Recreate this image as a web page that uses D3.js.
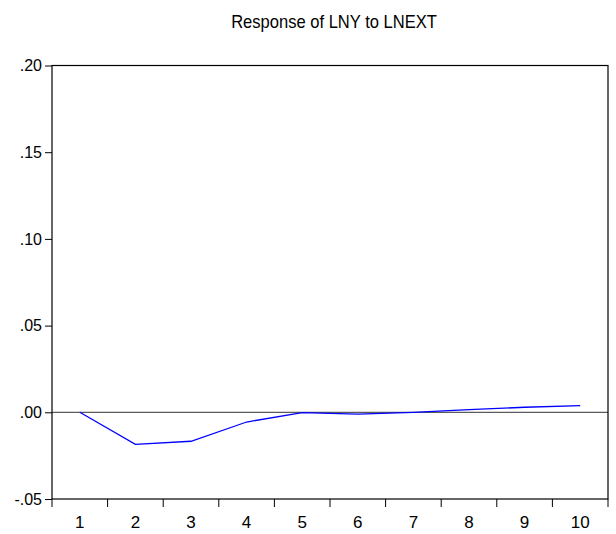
<!DOCTYPE html>
<html>
<head>
<meta charset="utf-8">
<script src="https://cdn.jsdelivr.net/npm/d3@7"></script>
<style>
  html, body { margin: 0; padding: 0; background: #fff; }
  svg { display: block; }
  text { font-family: "Liberation Sans", Arial, sans-serif; fill: #000; }
</style>
</head>
<body>
<svg id="chart" width="616" height="534"></svg>
<script>
// Impulse response of LNY to a shock in LNEXT, periods 1..10
const periods = [1, 2, 3, 4, 5, 6, 7, 8, 9, 10];
const response = [0.0000, -0.0185, -0.0167, -0.0056, -0.0002, -0.0010, -0.0001, 0.0015, 0.0029, 0.0038];
const yTicks = [-0.05, 0.00, 0.05, 0.10, 0.15, 0.20];
const yTickLabels = ["-.05", ".00", ".05", ".10", ".15", ".20"];
const title = "Response of LNY to LNEXT";

const svg = d3.select("#chart");
const margin = { left: 52, right: 8, top: 65.5, bottom: 35 };
const W = 616, H = 534;
const x0 = margin.left, x1 = W - margin.right;
const y0 = H - margin.bottom, y1 = margin.top;

const x = d3.scaleBand().domain(periods).range([x0, x1]).padding(0);
const y = d3.scaleLinear().domain([-0.05, 0.20]).range([y0, y1]);

// Title (slightly condensed)
const tx = 334;
svg.append("text")
  .attr("transform", `translate(${tx},28) scale(0.92,1)`)
  .attr("text-anchor", "middle")
  .attr("font-size", 18)
  .text(title);

// Zero line
svg.append("line")
  .attr("x1", x0).attr("x2", x1)
  .attr("y1", y(0)).attr("y2", y(0))
  .attr("stroke", "#333").attr("stroke-width", 1);

// Response line
const line = d3.line()
  .x(d => x(d[0]) + x.bandwidth() / 2)
  .y(d => y(d[1]));
svg.append("path")
  .datum(periods.map((p, i) => [p, response[i]]))
  .attr("d", line)
  .attr("fill", "none")
  .attr("stroke", "#0000ff")
  .attr("stroke-width", 1.3);

// Frame
svg.append("rect")
  .attr("x", x0).attr("y", y1)
  .attr("width", x1 - x0).attr("height", y0 - y1)
  .attr("fill", "none")
  .attr("stroke", "#000").attr("stroke-width", 1.2);

// Y axis
const yAxis = d3.axisLeft(y)
  .tickValues(yTicks)
  .tickFormat((d, i) => yTickLabels[i])
  .tickSize(7)
  .tickPadding(3);
const gy = svg.append("g").attr("transform", `translate(${x0},0)`).call(yAxis);
gy.select(".domain").remove();
gy.selectAll("text").attr("font-size", 16).attr("font-family", "Liberation Sans, Arial, sans-serif");
gy.selectAll("line").attr("stroke", "#000");

// X axis: ticks at band boundaries, labels centered in bands
const boundaries = periods.map(p => x(p)).concat([x1]);
svg.append("g").selectAll("line")
  .data(boundaries)
  .join("line")
  .attr("x1", d => d).attr("x2", d => d)
  .attr("y1", y0).attr("y2", y0 + 8)
  .attr("stroke", "#000");
svg.append("g").selectAll("text")
  .data(periods)
  .join("text")
  .attr("x", d => x(d) + x.bandwidth() / 2)
  .attr("y", 528)
  .attr("text-anchor", "middle")
  .attr("font-size", 17)
  .text(d => d);
</script>
</body>
</html>
